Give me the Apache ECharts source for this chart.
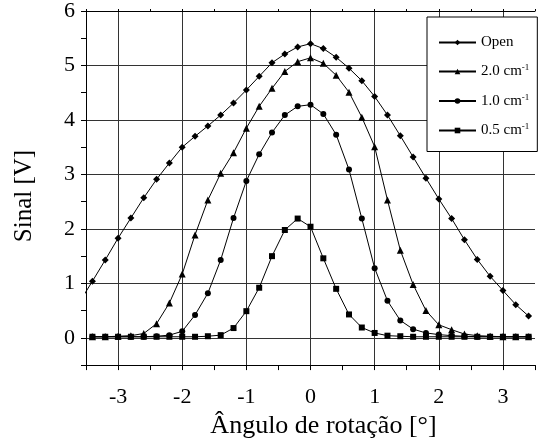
<!DOCTYPE html>
<html><head><meta charset="utf-8">
<script src="https://cdn.jsdelivr.net/npm/echarts@6/dist/echarts.min.js"></script>
<style>html,body{margin:0;padding:0;background:#fff}#c{width:538px;height:444px}</style>
</head><body><div id="c"></div>
<script>
// Rotation angles (degrees), step 0.2
const angles = [-3.4,-3.2,-3.0,-2.8,-2.6,-2.4,-2.2,-2.0,-1.8,-1.6,-1.4,-1.2,-1.0,-0.8,-0.6,-0.4,-0.2,0.0,
  0.2,0.4,0.6,0.8,1.0,1.2,1.4,1.6,1.8,2.0,2.2,2.4,2.6,2.8,3.0,3.2,3.4];
// "Open" curve continues past the left edge of the plot
const openAngles = [-3.6].concat(angles);
const openValues = [0.66,1.04,1.43,1.83,2.20,2.57,2.91,3.21,3.50,3.70,3.89,4.09,4.31,4.55,4.80,5.05,5.21,5.34,5.40,
  5.31,5.15,4.95,4.72,4.43,4.09,3.71,3.32,2.93,2.55,2.19,1.80,1.44,1.13,0.87,0.61,0.40];
const c20Values = [0.02,0.02,0.03,0.04,0.08,0.26,0.64,1.17,1.89,2.53,3.02,3.40,3.85,4.25,4.58,4.89,5.07,5.14,
  5.04,4.82,4.51,4.05,3.51,2.53,1.61,0.98,0.50,0.24,0.15,0.07,0.04,0.03,0.02,0.02,0.02];
const c10Values = [0.02,0.02,0.02,0.02,0.02,0.03,0.05,0.12,0.42,0.82,1.43,2.20,2.88,3.37,3.77,4.09,4.25,4.28,
  4.11,3.73,3.09,2.19,1.28,0.68,0.32,0.16,0.09,0.06,0.04,0.03,0.02,0.02,0.02,0.02,0.02];
const c05Values = [0.02,0.02,0.02,0.02,0.02,0.02,0.02,0.02,0.02,0.03,0.05,0.18,0.49,0.92,1.50,1.98,2.19,2.04,
  1.46,0.90,0.43,0.19,0.09,0.04,0.03,0.02,0.02,0.02,0.02,0.02,0.02,0.02,0.02,0.02,0.02];
const seriesNames = ['Open','2.0 cm-1','1.0 cm-1','0.5 cm-1'];
const seriesSymbols = ['diamond','triangle','circle','rect'];
const seriesSizes = [7,7,6,6];
const xTitle = 'Ângulo de rotação [°]';
const yTitle = 'Sinal [V]';

const FONT = 'Liberation Serif';
function pairs(xs, ys){ return xs.map((x,i)=>[x, ys[i]]); }
const allData = [pairs(openAngles, openValues), pairs(angles, c20Values), pairs(angles, c10Values), pairs(angles, c05Values)];

const chart = echarts.init(document.getElementById('c'), null, {renderer:'canvas'});
const gridColor = '#333';
chart.setOption({
  backgroundColor:'#fff',
  animation:false,
  grid:{left:86, top:11, right:-5, bottom:76, containLabel:false},
  xAxis:[{
    type:'value', min:-3.5, max:3.5, interval:0.5, position:'bottom',
    axisLine:{show:true, onZero:false, lineStyle:{color:'#000', width:1}},
    axisTick:{show:true, length:5, inside:false, lineStyle:{color:'#000'}},
    axisLabel:{fontFamily:FONT, fontSize:22, color:'#000', margin:21,
      formatter:v => (Math.abs(v - Math.round(v))<1e-6 && Math.abs(v)<3.4) ? String(Math.round(v)) : ''},
    splitLine:{show:true, lineStyle:{color:['transparent', gridColor], width:1}},
    name:xTitle, nameLocation:'middle', nameGap:45,
    nameTextStyle:{fontFamily:FONT, fontSize:26, color:'#000', padding:[0,0,0,26]}
  },{
    type:'value', min:-3.5, max:3.5, interval:0.5, position:'top',
    axisLine:{show:true, onZero:false, lineStyle:{color:'#000', width:1}},
    axisTick:{show:true, length:2, inside:false, lineStyle:{color:'#000'}},
    axisLabel:{show:false}, splitLine:{show:false}
  }],
  yAxis:{
    type:'value', min:-0.5, max:6, interval:0.5,
    axisLine:{show:true, onZero:false, lineStyle:{color:'#000', width:1}},
    axisTick:{show:true, length:5, lineStyle:{color:'#000'}},
    axisLabel:{fontFamily:FONT, fontSize:22, color:'#000', margin:11,
      formatter:v => (Math.abs(v - Math.round(v))<1e-6 && v>=0) ? String(Math.round(v)) : ''},
    splitLine:{show:true, lineStyle:{color:['transparent', gridColor], width:1}},
    name:yTitle, nameLocation:'middle', nameGap:49,
    nameTextStyle:{fontFamily:FONT, fontSize:25, color:'#000', padding:[0,16,0,0]}
  },
  legend:{
    left:427, top:17, orient:'vertical',
    backgroundColor:'#fff', borderColor:'#000', borderWidth:1, borderRadius:0,
    padding:[18,8,13,11], itemGap:13.5, itemWidth:37, itemHeight:7,
    data:seriesNames,
    formatter: name => { const m = name.match(/^(.*) cm-1$/); return m ? '{t|' + m[1] + ' cm}{s|-1}' : '{t|' + name + '}'; },
    textStyle:{fontFamily:FONT, fontSize:15, color:'#000',
      rich:{t:{fontFamily:FONT, fontSize:15, color:'#000'}, s:{fontFamily:FONT, fontSize:9, color:'#000', lineHeight:9, padding:[0,0,7,0]}}}
  },
  series: seriesNames.map((n,i)=>({
    name:n, type:'line', data:allData[i], clip:true,
    symbol:seriesSymbols[i], symbolSize:seriesSizes[i], showAllSymbol:true,
    lineStyle:{color:'#000', width:1}, itemStyle:{color:'#000'},
    emphasis:{disabled:true}, z:3+i
  }))
});
</script></body></html>
